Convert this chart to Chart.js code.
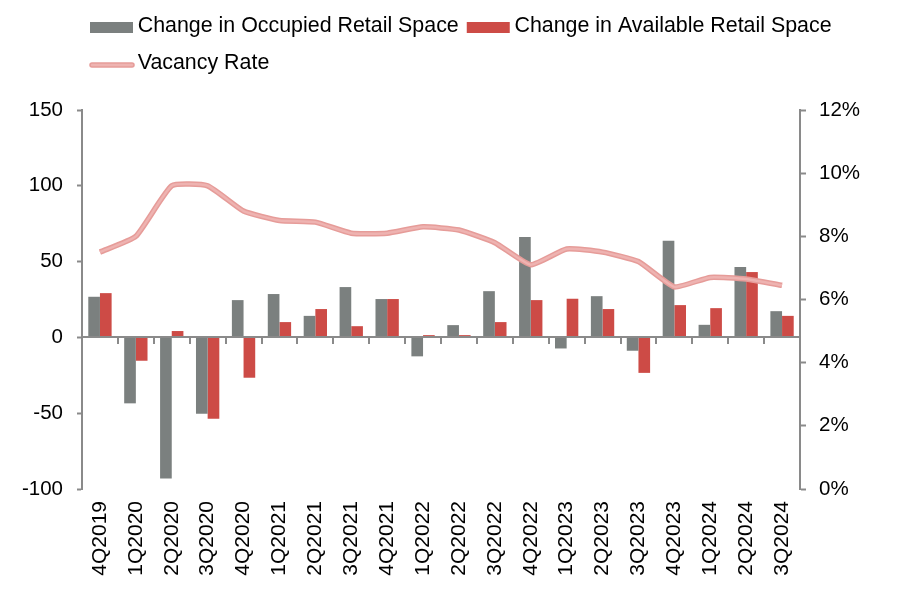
<!DOCTYPE html>
<html>
<head>
<meta charset="utf-8">
<script src="https://cdn.jsdelivr.net/npm/chart.js@4/dist/chart.umd.min.js"></script>
<style>
html,body{margin:0;padding:0;background:#ffffff;}
#wrap{width:912px;height:596px;}
</style>
</head>
<body>
<div id="wrap"><canvas id="c" width="912" height="596"></canvas></div>
<script>
const categories = ['4Q2019','1Q2020','2Q2020','3Q2020','4Q2020','1Q2021','2Q2021','3Q2021','4Q2021','1Q2022','2Q2022','3Q2022','4Q2022','1Q2023','2Q2023','3Q2023','4Q2023','1Q2024','2Q2024','3Q2024'];
const occupiedChange = [26.8,-43.5,-93,-50.4,24.6,28.6,14.2,33.2,25.3,-12.5,8.1,30.5,66.2,-7.3,27.2,-8.8,63.7,8.3,46.4,17.3];
const availableChange = [29.2,-15.4,4.2,-53.7,-26.6,10.1,18.7,7.4,25.3,1.5,1.5,10.1,24.6,25.5,18.7,-23.4,21.3,19.3,43.1,14.2];
const vacancyRate = [7.5,8.0,9.6,9.6,8.8,8.5,8.45,8.1,8.1,8.3,8.2,7.8,7.1,7.6,7.5,7.2,6.4,6.7,6.65,6.45];
const leftTickValues = [-100,-50,0,50,100,150];
const rightTickValues = [0,2,4,6,8,10,12];
const seriesNames = ['Change in Occupied Retail Space','Change in Available Retail Space','Vacancy Rate'];

const AXIS = '#8a8a8a';
const FONT = 'Liberation Sans, Arial, sans-serif';
const LINE_OUTER = '#e69c99';
const LINE_INNER = '#eeb3b1';

const legendSpacer = {
  id: 'legendSpacer',
  beforeInit(chart) {
    const fit = chart.legend.fit;
    chart.legend.fit = function () { fit.call(this); this.height += 22; };
  },
  afterLayout(chart) {
    if (chart.legend) chart.legend.left = chart.chartArea.left;
  }
};

const legendSwatches = {
  id: 'legendSwatches',
  afterDraw(chart) {
    const lg = chart.legend;
    if (!lg || !lg.legendHitBoxes || !lg.legendItems) return;
    const ctx = chart.ctx;
    lg.legendItems.forEach((it, i) => {
      const hb = lg.legendHitBoxes[i];
      if (!hb) return;
      const cy = hb.top + hb.height / 2;
      ctx.save();
      if (it.swatchType === 'line') {
        ctx.lineCap = 'round';
        ctx.strokeStyle = LINE_OUTER;
        ctx.lineWidth = 5.5;
        ctx.beginPath();
        ctx.moveTo(hb.left + 3, cy + 2);
        ctx.lineTo(hb.left + 43, cy + 2);
        ctx.stroke();
        ctx.strokeStyle = LINE_INNER;
        ctx.lineWidth = 2.5;
        ctx.stroke();
      } else {
        ctx.fillStyle = it.swatchColor;
        ctx.fillRect(hb.left + 1, cy - 4, 43, 11);
      }
      ctx.restore();
    });
  }
};

const lineHighlight = {
  id: 'lineHighlight',
  afterDatasetDraw(chart, args) {
    const ds = chart.data.datasets[args.index];
    if (ds.type !== 'line') return;
    const el = args.meta.dataset;
    if (!el || !el.options) return;
    const o = el.options;
    const bc = o.borderColor, bw = o.borderWidth;
    try {
      o.borderColor = LINE_INNER;
      o.borderWidth = 2.5;
      el.draw(chart.ctx, chart.chartArea);
    } finally {
      o.borderColor = bc;
      o.borderWidth = bw;
    }
  }
};

const zeroAxis = {
  id: 'zeroAxis',
  afterDatasetsDraw(chart) {
    const {ctx, chartArea, scales} = chart;
    const x = scales.x, y = scales.y;
    const y0 = Math.round(y.getPixelForValue(0));
    ctx.save();
    ctx.strokeStyle = AXIS;
    ctx.lineWidth = 2;
    ctx.beginPath();
    ctx.moveTo(chartArea.left, y0);
    ctx.lineTo(chartArea.right, y0);
    ctx.stroke();
    ctx.beginPath();
    for (let i = 1; i < categories.length; i++) {
      const px = Math.round(x.getPixelForValue(i - 0.5));
      ctx.moveTo(px, y0);
      ctx.lineTo(px, y0 + 7);
    }
    ctx.stroke();
    ctx.restore();
  }
};

new Chart(document.getElementById('c'), {
  type: 'bar',
  data: {
    labels: categories,
    datasets: [
      {
        label: seriesNames[0],
        data: occupiedChange,
        backgroundColor: '#7b807f',
        borderWidth: 0,
        yAxisID: 'y',
        order: 1,
        categoryPercentage: 0.65,
        barPercentage: 1.0
      },
      {
        label: seriesNames[1],
        data: availableChange,
        backgroundColor: '#cd4b46',
        borderWidth: 0,
        yAxisID: 'y',
        order: 1,
        categoryPercentage: 0.65,
        barPercentage: 1.0
      },
      {
        type: 'line',
        label: seriesNames[2],
        data: vacancyRate,
        borderColor: LINE_OUTER,
        backgroundColor: LINE_OUTER,
        borderWidth: 5.5,
        pointRadius: 0,
        pointHoverRadius: 0,
        tension: 0.15,
        fill: false,
        yAxisID: 'y1',
        order: 0
      }
    ]
  },
  options: {
    responsive: false,
    animation: false,
    devicePixelRatio: 1,
    layout: { padding: { left: 0, top: 4, right: 0, bottom: 0 } },
    plugins: {
      legend: {
        display: true,
        position: 'top',
        align: 'start',
        labels: {
          color: '#000000',
          font: { family: FONT, size: 21.4 },
          boxWidth: 38,
          boxHeight: 30,
          padding: 7,
          generateLabels(chart) {
            const items = Chart.defaults.plugins.legend.labels.generateLabels(chart);
            items.sort((a, b) => a.datasetIndex - b.datasetIndex);
            items.forEach(it => {
              const ds = chart.data.datasets[it.datasetIndex];
              it.swatchType = ds.type === 'line' ? 'line' : 'bar';
              it.swatchColor = ds.type === 'line' ? ds.borderColor : ds.backgroundColor;
              it.fillStyle = 'rgba(0,0,0,0)';
              it.strokeStyle = 'rgba(0,0,0,0)';
              it.lineWidth = 0;
            });
            return items;
          }
        }
      },
      tooltip: { enabled: false }
    },
    scales: {
      x: {
        type: 'category',
        offset: true,
        grid: { display: false, drawTicks: false },
        border: { display: false },
        ticks: {
          color: '#000000',
          font: { family: FONT, size: 21 },
          minRotation: 90,
          maxRotation: 90,
          autoSkip: false,
          padding: 12
        },
        afterFit(s) { s.height = 107; }
      },
      y: {
        position: 'left',
        min: leftTickValues[0],
        max: leftTickValues[leftTickValues.length - 1],
        grid: { display: true, drawOnChartArea: false, drawTicks: true, tickLength: 5, tickColor: AXIS, tickWidth: 2, color: AXIS },
        border: { display: true, color: AXIS, width: 2 },
        ticks: {
          stepSize: leftTickValues[1] - leftTickValues[0],
          color: '#000000',
          font: { family: FONT, size: 20.5 },
          padding: 14
        },
        afterFit(s) { s.width = 82; }
      },
      y1: {
        position: 'right',
        min: rightTickValues[0],
        max: rightTickValues[rightTickValues.length - 1],
        grid: { display: true, drawOnChartArea: false, drawTicks: true, tickLength: 6, tickColor: AXIS, tickWidth: 2, color: AXIS },
        border: { display: true, color: AXIS, width: 2 },
        ticks: {
          stepSize: rightTickValues[1] - rightTickValues[0],
          color: '#000000',
          font: { family: FONT, size: 20.5 },
          padding: 13,
          callback: v => v + '%'
        },
        afterFit(s) { s.width = 112; }
      }
    }
  },
  plugins: [legendSpacer, legendSwatches, lineHighlight, zeroAxis]
});
</script>
</body>
</html>
